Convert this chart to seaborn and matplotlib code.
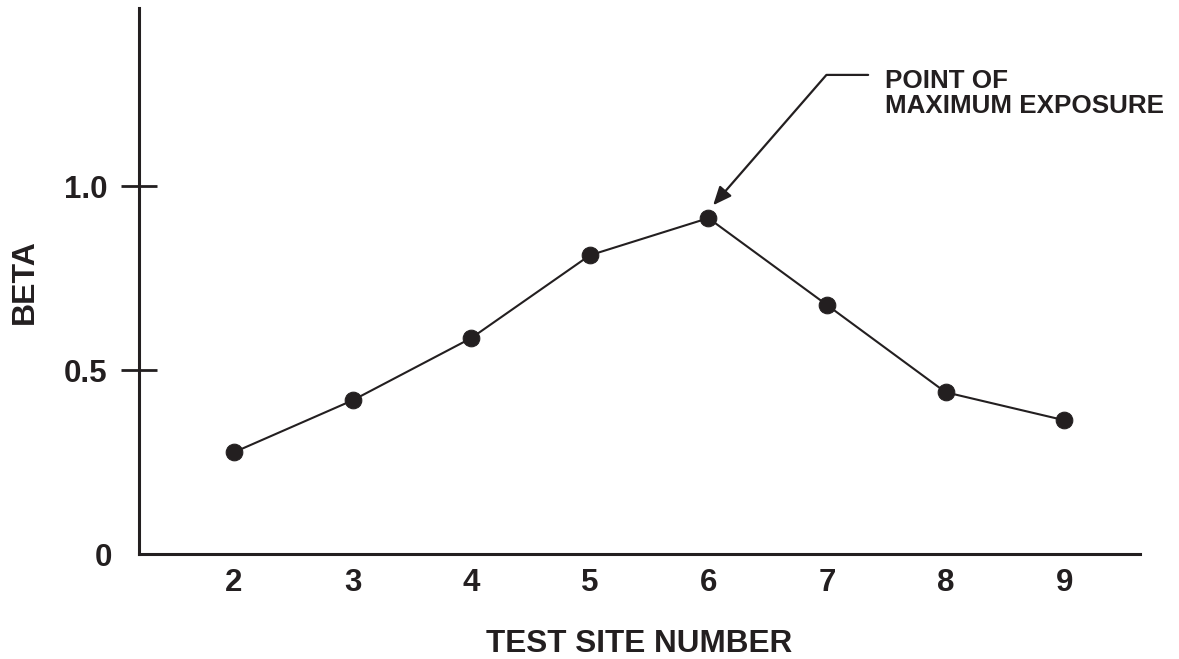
import pandas as pd
import matplotlib
matplotlib.use("Agg")
import matplotlib.pyplot as plt
import seaborn as sns

# data
test_site = [2, 3, 4, 5, 6, 7, 8, 9]
beta = [0.277, 0.418, 0.587, 0.812, 0.913, 0.677, 0.44, 0.364]
y_ticks = [0, 0.5, 1.0]
y_tick_labels = ["0", "0.5", "1.0"]
note_text = "POINT OF\nMAXIMUM EXPOSURE"

df = pd.DataFrame({"site": test_site, "beta": beta})

ink = "#231f20"
sns.set_style("white")
plt.rcParams["font.family"] = ["Liberation Sans", "DejaVu Sans"]
plt.rcParams["font.weight"] = "bold"

fig = plt.figure(figsize=(11.79, 6.59), dpi=100)
ax = fig.add_axes([0.118, 0.159, 0.849, 0.829])

sns.lineplot(data=df, x="site", y="beta", ax=ax, color=ink, lw=1.5,
             marker="o", markersize=12, markeredgecolor=ink, markerfacecolor=ink)

ax.set_xlim(1.2, 9.64)
ax.set_ylim(0, 1.484)

ax.set_xticks(test_site)
ax.set_xticklabels([str(s) for s in test_site], fontsize=22.5, fontweight="bold", color=ink)
ax.set_yticks(y_ticks)
ax.set_yticklabels(y_tick_labels, fontsize=22.5, fontweight="bold", color=ink)
ax.tick_params(axis="x", bottom=False, length=0, pad=10)
ax.tick_params(axis="y", left=True, direction="inout", length=26.6, width=2, color=ink, pad=9.7)
zero_tick = ax.yaxis.get_major_ticks()[0]
zero_tick.tick1line.set_visible(False)
zero_tick.set_pad(6)

for side in ["top", "right"]:
    ax.spines[side].set_visible(False)
for side in ["left", "bottom"]:
    ax.spines[side].set_linewidth(2.2)
    ax.spines[side].set_color(ink)

ax.set_xlabel("TEST SITE NUMBER", fontsize=22.7, fontweight="bold", color=ink, labelpad=22)
ax.set_ylabel("BETA", fontsize=23, fontweight="bold", color=ink, labelpad=17)

# callout for the peak
ax.annotate("", xy=(6.04, 0.948), xytext=(7.347, 1.302), fontsize=16,
            arrowprops=dict(arrowstyle="-|>,head_length=0.7,head_width=0.3",
                            connectionstyle="angle,angleA=0,angleB=49,rad=0",
                            shrinkA=0, shrinkB=0, lw=1.6, color=ink))
ax.text(7.49, 1.318, note_text, fontsize=18.7, fontweight="bold", color=ink,
        ha="left", va="top", linespacing=1.05)

fig.savefig("out.png", dpi=100)
